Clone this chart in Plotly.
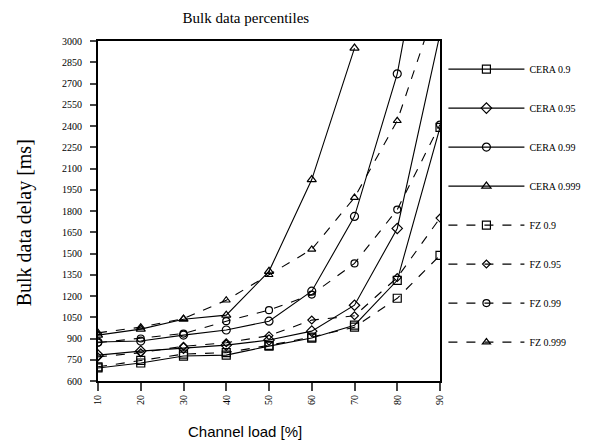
import plotly.graph_objects as go

load = [10, 20, 30, 40, 50, 60, 70, 80, 90]

cera_09 = [692, 727, 776, 783, 846, 903, 994, 1311, 2390]
cera_095 = [783, 811, 832, 853, 889, 952, 1135, 1677, 3050]
cera_099 = [875, 882, 924, 960, 1022, 1234, 1762, 2768, 4400]
cera_0999 = [924, 966, 1036, 1065, 1374, 2022, 2950]

fz_09 = [700, 745, 790, 800, 852, 910, 980, 1184, 1487]
fz_095 = [770, 800, 845, 870, 920, 1030, 1060, 1330, 1750]
fz_099 = [870, 900, 935, 1022, 1100, 1210, 1430, 1810, 2410]
fz_0999 = [940, 980, 1040, 1170, 1350, 1529, 1895, 2437, 3330]

y_ticks = list(range(600, 3001, 150))

series = [
    ("CERA 0.9", cera_09, "square-open", "solid", 8),
    ("CERA 0.95", cera_095, "diamond-open", "solid", 8),
    ("CERA 0.99", cera_099, "circle-open", "solid", 8),
    ("CERA 0.999", cera_0999, "triangle-up-open", "solid", 8),
    ("FZ 0.9", fz_09, "square-open", "dash", 8),
    ("FZ 0.95", fz_095, "diamond-open", "dash", 6),
    ("FZ 0.99", fz_099, "circle-open", "dash", 7),
    ("FZ 0.999", fz_0999, "triangle-up-open", "dash", 7),
]

fig = go.Figure()
for i, (name, ys, sym, dash, ms) in enumerate(series):
    fig.add_trace(go.Scatter(
        x=load[:len(ys)], y=ys, name=name, mode="lines+markers",
        line=dict(color="black", width=1.1, dash=dash),
        marker=dict(symbol=sym, size=ms, color="black", line=dict(width=1.2, color="black")),
        legendgroup=f"g{i}", cliponaxis=True,
    ))

fig.update_layout(
    width=610, height=445,
    margin=dict(l=90, r=178, t=33, b=72),
    paper_bgcolor="white", plot_bgcolor="white",
    font=dict(family="Liberation Serif", color="black", size=10),
    title=dict(text="Bulk data percentiles", x=0.39, xanchor="center", y=0.99, yanchor="top",
               font=dict(family="Liberation Serif", size=15)),
    showlegend=True,
    legend=dict(x=1.01, y=0.96, xanchor="left", yanchor="top", tracegroupgap=20,
                itemwidth=76, font=dict(family="Liberation Serif", size=10),
                bgcolor="rgba(0,0,0,0)"),
    xaxis=dict(range=[10, 90], tickvals=load, ticks="outside", ticklen=8, tickwidth=1.5,
               tickangle=-90, showline=True, linecolor="black", linewidth=2, mirror=True,
               showgrid=False, zeroline=False, tickfont=dict(size=10)),
    yaxis=dict(range=[600, 3000], tickvals=y_ticks, ticks="outside", ticklen=6, tickwidth=1.5,
               showline=True, linecolor="black", linewidth=2, mirror=True,
               showgrid=False, zeroline=False, tickfont=dict(size=10), ticklabelstandoff=6),
    annotations=[
        dict(text="Channel load [%]", xref="paper", yref="paper", x=0.43, y=-0.15,
             xanchor="center", yanchor="middle", showarrow=False,
             font=dict(family="Liberation Sans", size=15)),
        dict(text="Bulk data delay [ms]", xref="paper", yref="paper", x=-0.215, y=0.465,
             xanchor="center", yanchor="middle", showarrow=False, textangle=-90,
             font=dict(family="Liberation Serif", size=20)),
    ],
)

fig.write_html("out.html")
